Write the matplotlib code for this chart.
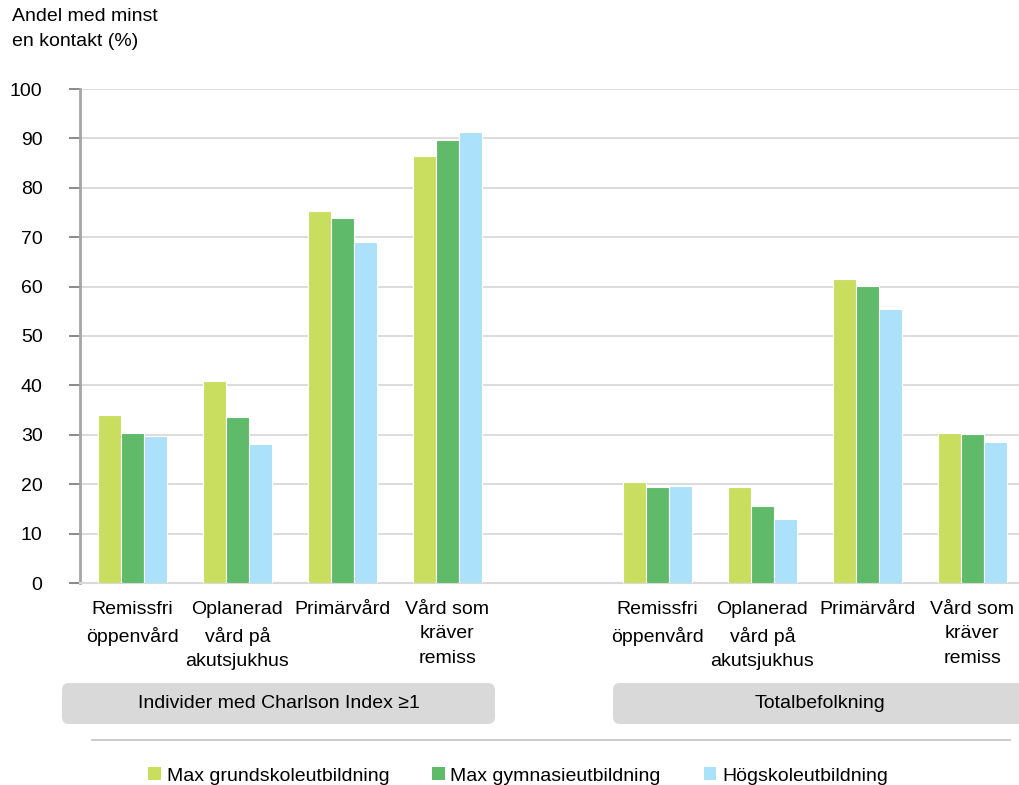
import matplotlib.pyplot as plt
from matplotlib.patches import FancyBboxPatch, Patch
import numpy as np

plt.rcParams['font.family'] = ['Liberation Sans', 'DejaVu Sans']

categories = ['Remissfri\nöppenvård', 'Oplanerad\nvård på\nakutsjukhus',
              'Primärvård', 'Vård som\nkräver\nremiss']
groups = ['Individer med Charlson Index ≥1', 'Totalbefolkning']
series = ['Max grundskoleutbildning', 'Max gymnasieutbildning', 'Högskoleutbildning']
colors = ['#c9dd5f', '#5fbb6a', '#abe1fa']

# rows: series, columns: categories
charlson = [
    [34.0, 40.9, 75.4, 86.4],
    [30.4, 33.7, 73.9, 89.7],
    [29.8, 28.1, 69.0, 91.3],
]
total = [
    [20.5, 19.4, 61.5, 30.4],
    [19.4, 15.6, 60.2, 30.2],
    [19.6, 13.0, 55.5, 28.5],
]
yticks = [0, 10, 20, 30, 40, 50, 60, 70, 80, 90, 100]

FS = 14

fig = plt.figure(figsize=(10.2, 7.85), dpi=100)
ax = fig.add_axes([80 / 1020, 202 / 785, 945 / 1020, 494 / 785])

# two blocks of four categories with one empty slot between them
x1 = np.arange(4)
x2 = np.arange(4) + 5
bw = 0.222
for i in range(3):
    off = (i - 1) * bw
    ax.bar(x1 + off, charlson[i], bw, color=colors[i], edgecolor='white',
           linewidth=0.8, zorder=3)
    ax.bar(x2 + off, total[i], bw, color=colors[i], edgecolor='white',
           linewidth=0.8, zorder=3)

ax.set_xlim(-0.5, 8.5)
ax.set_ylim(0, 100)
ax.set_yticks(yticks)
ax.set_yticklabels([str(t) for t in yticks], fontsize=FS)
ax.set_xticks([])
ax.grid(axis='y', color='#d9d9d9', linewidth=1.3, zorder=0)
for s in ['top', 'right']:
    ax.spines[s].set_visible(False)
ax.spines['left'].set_color('#a6a6a6')
ax.spines['left'].set_linewidth(2)
ax.spines['bottom'].set_color('#d9d9d9')
ax.spines['bottom'].set_linewidth(1.5)
ax.tick_params(axis='y', direction='out', length=8, width=1.3, color='#808080',
               pad=19)

for xs in (x1, x2):
    for x, c in zip(xs, categories):
        ax.text(x, -3.7, c, ha='center', va='top', fontsize=FS,
                linespacing=1.55, clip_on=False)

fig.text(12 / 1020, 1 - 8 / 785, 'Andel med minst\nen kontakt (%)',
         ha='left', va='top', fontsize=FS, linespacing=1.65)

# overlay in pixel coordinates for group boxes and separator line
ov = fig.add_axes([0, 0, 1, 1], zorder=-1)
ov.set_xlim(0, 1020)
ov.set_ylim(785, 0)
ov.axis('off')
for (left, right), g in zip([(62, 495), (613, 1028)], groups):
    ov.add_patch(FancyBboxPatch((left, 683), right - left, 41,
                                boxstyle='round,pad=0,rounding_size=7',
                                facecolor='#d9d9d9', edgecolor='none'))
    ov.text((left + right) / 2, 704, g, ha='center', va='center', fontsize=FS)
ov.plot([92, 1010], [740, 740], color='#c8c8c8', linewidth=1.3)

handles = [Patch(facecolor=c, edgecolor='none') for c in colors]
fig.legend(handles, series, loc='center', bbox_to_anchor=(518 / 1020, 9 / 785),
           ncol=3, frameon=False, fontsize=FS, handlelength=0.65, handleheight=0.65,
           handletextpad=0.3, columnspacing=2.2, borderpad=0)

fig.savefig('out.png', dpi=100)
